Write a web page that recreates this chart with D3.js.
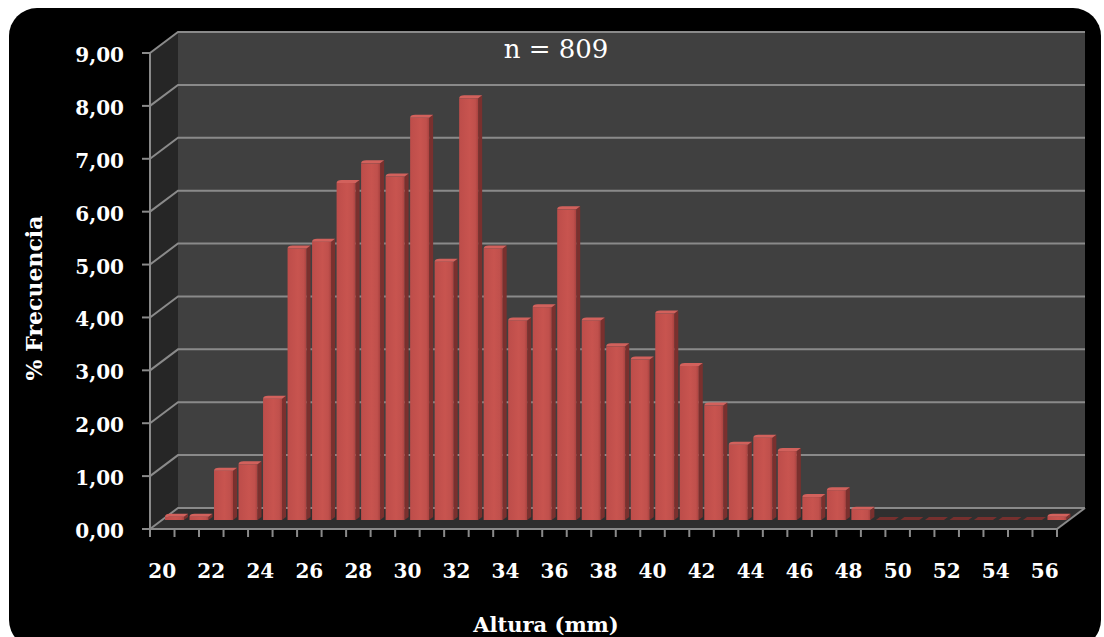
<!DOCTYPE html>
<html>
<head>
<meta charset="utf-8">
<script src="https://cdn.jsdelivr.net/npm/d3@7"></script>
<style>
  html, body { margin: 0; padding: 0; background: #ffffff; }
  svg { display: block; }
  text { font-family: "DejaVu Serif", "Liberation Serif", serif; fill: #ffffff; }
</style>
</head>
<body>
<svg id="chart" width="1104" height="637"></svg>
<script>
// Shell height classes (mm)
const categories = [20, 21, 22, 23, 24, 25, 26, 27, 28, 29, 30, 31, 32, 33, 34, 35, 36, 37, 38,
                    39, 40, 41, 42, 43, 44, 45, 46, 47, 48, 49, 50, 51, 52, 53, 54, 55, 56];
// Relative frequency (%) per class
const frequency = [0.12, 0.12, 0.99, 1.11, 2.35, 5.19, 5.32, 6.43, 6.80, 6.55, 7.66, 4.94, 8.03,
                   5.19, 3.83, 4.08, 5.93, 3.83, 3.34, 3.09, 3.96, 2.97, 2.22, 1.48, 1.61, 1.36,
                   0.49, 0.62, 0.25, 0, 0, 0, 0, 0, 0, 0, 0.12];
const xTickLabels = [20, 22, 24, 26, 28, 30, 32, 34, 36, 38, 40, 42, 44, 46, 48, 50, 52, 54, 56];
const yTicks = [0, 1, 2, 3, 4, 5, 6, 7, 8, 9];
const sampleLabel = "n = 809";
const xTitle = "Altura (mm)";
const yTitle = "% Frecuencia";

const svg = d3.select("#chart");

// depth of the 3D box (oblique projection)
const DX = 28, DY = -21;
// bars sit part-way into the box
const BX = 12, BY = -9;
// bar's own depth
const bdx = 4, bdy = -3;

const x = d3.scaleBand().domain(categories).range([150, 1057]).padding(0);
const y = d3.scaleLinear().domain([0, 9]).range([529, 53]);

const locale = d3.formatLocale({ decimal: ",", thousands: ".", grouping: [3], currency: ["", ""] });
const fmt = locale.format(".2f");

// outer black panel
svg.append("rect")
  .attr("x", 9).attr("y", 8).attr("width", 1092).attr("height", 640)
  .attr("rx", 28).attr("ry", 28)
  .attr("fill", "#000000");

const x0 = x.range()[0], x1 = x.range()[1];
const y0 = y(0), yTop = y(9);

// side wall
svg.append("path")
  .attr("d", `M${x0},${yTop} L${x0 + DX},${yTop + DY} L${x0 + DX},${y0 + DY} L${x0},${y0} Z`)
  .attr("fill", "#262626");
// back wall
svg.append("rect")
  .attr("x", x0 + DX).attr("y", yTop + DY)
  .attr("width", x1 - x0).attr("height", y0 - yTop)
  .attr("fill", "#404040");
// floor
svg.append("path")
  .attr("d", `M${x0},${y0} L${x1},${y0} L${x1 + DX},${y0 + DY} L${x0 + DX},${y0 + DY} Z`)
  .attr("fill", "#2f2f2f");

// gridlines (side wall + back wall)
svg.append("g").selectAll("path")
  .data(yTicks)
  .join("path")
  .attr("d", d => `M${x0},${y(d)} L${x0 + DX},${y(d) + DY} L${x1 + DX},${y(d) + DY}`)
  .attr("fill", "none")
  .attr("stroke", "#8a8a8a")
  .attr("stroke-width", 2);

// floor right edge
svg.append("path")
  .attr("d", `M${x1},${y0} L${x1 + DX},${y0 + DY}`)
  .attr("stroke", "#8a8a8a").attr("stroke-width", 2);

// bar shading
const defs = svg.append("defs");
const grad = defs.append("linearGradient").attr("id", "barFace")
  .attr("x1", "0").attr("x2", "1").attr("y1", "0").attr("y2", "0");
grad.append("stop").attr("offset", "0").attr("stop-color", "#bd4d4a");
grad.append("stop").attr("offset", "0.55").attr("stop-color", "#c8544f");
grad.append("stop").attr("offset", "0.85").attr("stop-color", "#c0504c");
grad.append("stop").attr("offset", "1").attr("stop-color", "#a9423f");

const bars = svg.append("g").attr("transform", `translate(${BX},${BY})`);
const bw = 19, bInset = 3;

const barData = categories.map((c, i) => ({ c, v: frequency[i] }));

bars.selectAll("g.bar")
  .data(barData)
  .join("g")
  .attr("class", "bar")
  .each(function (d) {
    const g = d3.select(this);
    const L = x(d.c) + bInset, R = L + bw;
    const B = y(0);
    // the cap's back edge reaches the value level
    const T = Math.min(B, y(d.v) - bdy);
    if (d.v > 0) {
      // right side face
      g.append("path")
        .attr("d", `M${R},${T} L${R + bdx},${T + bdy} L${R + bdx},${B + bdy} L${R},${B} Z`)
        .attr("fill", "#7a302e");
      // front face
      g.append("rect")
        .attr("x", L).attr("y", T).attr("width", bw).attr("height", B - T)
        .attr("fill", "url(#barFace)");
      // top cap
      g.append("path")
        .attr("d", `M${L},${T} L${R},${T} L${R + bdx},${T + bdy} L${L + bdx + 1},${T + bdy} Q${L},${T + bdy} ${L},${T} Z`)
        .attr("fill", "#d2615c");
    } else {
      g.append("path")
        .attr("d", `M${L},${B} L${R},${B} L${R + bdx},${B + bdy} L${L + bdx},${B + bdy} Z`)
        .attr("fill", "#76302e");
    }
  });

// front x axis line and ticks
svg.append("line")
  .attr("x1", x0).attr("x2", x1).attr("y1", y0).attr("y2", y0)
  .attr("stroke", "#8a8a8a").attr("stroke-width", 2);
const bounds = categories.map(c => x(c)).concat([x1]);
svg.append("g").selectAll("line")
  .data(bounds)
  .join("line")
  .attr("x1", d => d).attr("x2", d => d)
  .attr("y1", y0).attr("y2", y0 + 8)
  .attr("stroke", "#8a8a8a").attr("stroke-width", 2);

// y axis line and ticks
svg.append("line")
  .attr("x1", x0).attr("x2", x0).attr("y1", yTop).attr("y2", y0)
  .attr("stroke", "#8a8a8a").attr("stroke-width", 2);
svg.append("g").selectAll("line")
  .data(yTicks)
  .join("line")
  .attr("x1", x0 - 8).attr("x2", x0)
  .attr("y1", d => y(d)).attr("y2", d => y(d))
  .attr("stroke", "#8a8a8a").attr("stroke-width", 2);

// y tick labels
svg.append("g").selectAll("text")
  .data(yTicks)
  .join("text")
  .attr("x", 124)
  .attr("y", d => y(d) + 9)
  .attr("text-anchor", "end")
  .attr("font-size", 20)
  .attr("font-weight", "bold")
  .text(d => fmt(d));

// x tick labels
svg.append("g").selectAll("text")
  .data(xTickLabels)
  .join("text")
  .attr("x", d => x(d) + x.bandwidth() / 2)
  .attr("y", 578)
  .attr("text-anchor", "middle")
  .attr("font-size", 20)
  .attr("font-weight", "bold")
  .text(d => d);

// titles
svg.append("text")
  .attr("x", 546).attr("y", 632)
  .attr("text-anchor", "middle")
  .attr("font-size", 21)
  .attr("font-weight", "bold")
  .text(xTitle);

svg.append("text")
  .attr("transform", "translate(42,298) rotate(-90)")
  .attr("text-anchor", "middle")
  .attr("font-size", 22)
  .attr("font-weight", "bold")
  .text(yTitle);

svg.append("text")
  .attr("x", 556).attr("y", 58)
  .attr("text-anchor", "middle")
  .attr("font-size", 26)
  .text(sampleLabel);
</script>
</body>
</html>
